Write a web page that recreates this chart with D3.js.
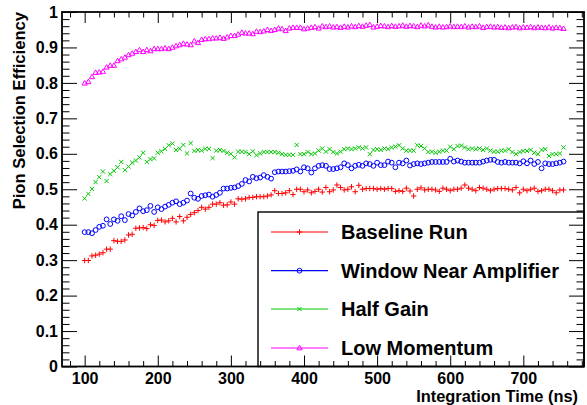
<!DOCTYPE html>
<html>
<head>
<meta charset="utf-8">
<script src="https://cdn.jsdelivr.net/npm/d3@7"></script>
<style>
  html, body { margin: 0; padding: 0; background: #fff; }
  svg { display: block; }
  text { font-family: "Liberation Sans", Arial, Helvetica, sans-serif; font-weight: bold; fill: #000; }
</style>
</head>
<body>
<svg id="chart" width="587" height="405"></svg>
<script>
// Integration-time grid: 100 ns to 755 ns in 5 ns steps
const timeStart = 100;
const timeStep = 5;

const xTicks = [100, 200, 300, 400, 500, 600, 700];
const yTicks = [0, 0.1, 0.2, 0.3, 0.4, 0.5, 0.6, 0.7, 0.8, 0.9, 1];
const yTickLabels = ["0", "0.1", "0.2", "0.3", "0.4", "0.5", "0.6", "0.7", "0.8", "0.9", "1"];

const seriesNames = ["Baseline Run", "Window Near Amplifier", "Half Gain", "Low Momentum"];

const baselineRun = [
  0.299,0.299,0.312,0.314,0.317,0.321,0.331,0.331,0.355,0.353,
  0.353,0.357,0.371,0.373,0.390,0.391,0.392,0.389,0.400,0.398,
  0.412,0.413,0.408,0.411,0.418,0.408,0.423,0.411,0.421,0.429,
  0.434,0.440,0.449,0.444,0.449,0.458,0.458,0.462,0.455,0.456,
  0.464,0.458,0.473,0.472,0.473,0.477,0.477,0.479,
  0.479,0.479,0.481,0.484,0.496,0.488,0.488,0.490,0.496,0.485,
  0.500,0.500,0.493,0.498,0.490,0.494,0.500,0.492,0.505,0.493,
  0.498,0.512,0.505,0.498,0.500,0.507,0.493,0.511,0.500,0.502,
  0.502,0.502,0.500,0.502,0.500,0.502,0.502,0.494,0.496,0.494,
  0.503,0.495,0.481,0.500,0.504,0.498,0.500,0.500,0.498,0.494,
  0.503,0.500,
  0.496,0.500,0.500,0.503,0.512,0.503,0.500,0.496,0.505,0.503,
  0.500,0.496,0.500,0.502,0.502,0.502,0.500,0.498,0.505,0.490,
  0.500,0.496,0.500,0.503,0.494,0.496,0.500,0.500,0.496,0.490,
  0.498,0.498
];

const windowNearAmp = [
  0.379,0.379,0.376,0.385,0.394,0.397,0.415,0.402,0.415,0.411,
  0.424,0.413,0.430,0.426,0.436,0.446,0.438,0.441,0.453,0.436,
  0.449,0.444,0.451,0.456,0.462,0.466,0.458,0.462,0.468,0.488,
  0.476,0.473,0.481,0.483,0.485,0.479,0.484,0.490,0.502,0.502,
  0.504,0.505,0.509,0.515,0.526,0.522,0.535,0.531,
  0.533,0.540,0.535,0.530,0.548,0.550,0.550,0.550,0.551,0.552,
  0.556,0.550,0.562,0.559,0.547,0.559,0.566,0.568,0.566,0.557,
  0.557,0.559,0.562,0.573,0.568,0.559,0.566,0.569,0.566,0.573,
  0.571,0.566,0.575,0.568,0.568,0.578,0.575,0.562,0.575,0.573,
  0.581,0.567,0.571,0.573,0.571,0.573,0.575,0.577,0.577,0.577,
  0.577,0.577,
  0.586,0.578,0.581,0.578,0.575,0.575,0.575,0.575,0.575,0.578,
  0.581,0.583,0.583,0.577,0.575,0.577,0.575,0.575,0.575,0.573,
  0.579,0.573,0.581,0.571,0.577,0.559,0.573,0.571,0.571,0.573,
  0.575,0.578
];

const halfGain = [
  0.474,0.487,0.501,0.520,0.534,0.550,0.523,0.543,0.552,0.562,
  0.577,0.554,0.564,0.575,0.581,0.590,0.603,0.577,0.585,0.587,
  0.603,0.607,0.614,0.624,0.629,0.611,0.614,0.625,0.601,0.630,
  0.608,0.611,0.609,0.614,0.614,0.588,0.609,0.611,0.608,0.603,
  0.600,0.590,0.606,0.606,0.605,0.599,0.607,0.596,
  0.601,0.605,0.605,0.605,0.605,0.603,0.599,0.597,0.597,0.597,
  0.625,0.599,0.599,0.605,0.599,0.601,0.609,0.615,0.606,0.613,
  0.605,0.601,0.606,0.613,0.615,0.613,0.615,0.618,0.615,0.618,
  0.599,0.611,0.613,0.611,0.615,0.613,0.618,0.620,0.624,0.615,
  0.609,0.609,0.609,0.624,0.622,0.615,0.605,0.606,0.603,0.606,
  0.609,0.609,
  0.620,0.613,0.622,0.623,0.618,0.613,0.615,0.613,0.615,0.611,
  0.615,0.609,0.606,0.606,0.609,0.609,0.613,0.605,0.599,0.605,
  0.608,0.608,0.611,0.603,0.599,0.611,0.613,0.594,0.599,0.599,
  0.601,0.618
];

const lowMomentum = [
  0.799,0.803,0.817,0.829,0.830,0.832,0.844,0.849,0.849,0.862,
  0.867,0.872,0.879,0.883,0.888,0.893,0.888,0.893,0.890,0.896,
  0.896,0.896,0.898,0.896,0.900,0.904,0.907,0.911,0.909,0.907,
  0.918,0.913,0.922,0.924,0.924,0.926,0.926,0.928,0.925,0.929,
  0.933,0.933,0.937,0.942,0.940,0.940,0.938,0.945,0.944,0.946,
  0.950,0.947,0.950,0.954,0.952,0.947,0.954,0.956,0.956,0.956,
  0.952,0.954,0.956,0.958,0.954,0.960,
  0.958,0.960,0.957,0.958,0.956,0.959,0.957,0.960,0.958,0.961,
  0.959,0.962,0.964,0.957,0.959,0.961,0.960,0.958,0.961,0.959,
  0.960,0.962,0.959,0.961,0.960,0.958,0.962,0.960,0.963,0.959,
  0.957,0.959,0.957,0.958,0.960,0.958,0.959,0.958,0.960,0.957,
  0.959,0.958,0.960,0.956,0.958,0.959,0.957,0.958,0.956,0.957,
  0.955,0.957,0.958,0.955,0.957,0.956,0.958,0.955,0.957,0.956,
  0.955,0.957,0.954,0.956,0.955,0.953
];

const seriesColors = ["#ff0000", "#0000ff", "#00c800", "#ff00ff"];
const seriesMarkers = ["plus", "circle", "cross", "triangle"];
const seriesValues = [baselineRun, windowNearAmp, halfGain, lowMomentum];

// Marker outlines (ROOT-style: +, open circle, x, open triangle)
const markerPaths = {
  plus: "M-2.7,0H2.7M0,-2.7V2.7",
  circle: "M2.4,0A2.4,2.4 0 1,1 -2.4,0A2.4,2.4 0 1,1 2.4,0Z",
  cross: "M-2.1,-2.1L2.1,2.1M-2.1,2.1L2.1,-2.1",
  triangle: "M0,-2.7L2.6,1.8L-2.6,1.8Z"
};

const svg = d3.select("#chart");
const frame = { left: 62, right: 584, top: 12, bottom: 366.5 };

const x = d3.scaleLinear().domain([69, 783]).range([frame.left, frame.right]);
const y = d3.scaleLinear().domain([0, 1]).range([frame.bottom, frame.top]);

svg.append("rect").attr("width", 587).attr("height", 405).attr("fill", "#fff");

// Legend box (sits on the lower-right corner of the frame)
const legend = { left: 258, top: 212, right: frame.right, bottom: frame.bottom };
svg.append("rect")
  .attr("x", legend.left).attr("y", legend.top)
  .attr("width", legend.right - legend.left).attr("height", legend.bottom - legend.top)
  .attr("fill", "#fff").attr("stroke", "#000").attr("stroke-width", 1.4);

// Data markers
seriesValues.forEach((vals, s) => {
  const g = svg.append("g")
    .attr("fill", "none")
    .attr("stroke", seriesColors[s])
    .attr("stroke-width", 1);
  g.selectAll("path")
    .data(vals)
    .join("path")
    .attr("transform", (v, i) => `translate(${x(timeStart + i * timeStep)},${y(v)})`)
    .attr("d", markerPaths[seriesMarkers[s]]);
});

// Legend entries
const legendRowY = [232, 270.7, 309, 348];
seriesNames.forEach((name, s) => {
  const row = svg.append("g").attr("transform", `translate(0,${legendRowY[s]})`);
  row.append("line")
    .attr("x1", 271).attr("x2", 328).attr("y1", 0).attr("y2", 0)
    .attr("stroke", seriesColors[s]).attr("stroke-width", 1.2);
  row.append("path")
    .attr("transform", "translate(299.5,0)")
    .attr("d", markerPaths[seriesMarkers[s]])
    .attr("fill", "none").attr("stroke", seriesColors[s]).attr("stroke-width", 1);
  row.append("text")
    .attr("x", 341).attr("dy", "0.35em")
    .style("font-size", "20px")
    .text(name);
});

// Axes: ticks point inward on all four sides
const xMinor = d3.range(80, 784, 20).filter(v => v % 100 !== 0);
const yMinor = d3.range(1, 50).map(k => k * 0.02).filter((v, k) => (k + 1) % 5 !== 0);

function styleAxis(g) {
  g.select(".domain").remove();
  g.selectAll(".tick line").attr("stroke", "#000").attr("stroke-width", 1);
  g.selectAll("text").style("font-size", "16px").attr("fill", "#000");
}

svg.append("g").attr("transform", `translate(0,${frame.bottom})`)
  .call(d3.axisBottom(x).tickValues(xTicks).tickSize(-11).tickPadding(6).tickFormat(d3.format("d")))
  .call(styleAxis);
svg.append("g").attr("transform", `translate(0,${frame.bottom})`)
  .call(d3.axisBottom(x).tickValues(xMinor).tickSize(-5.5).tickFormat(""))
  .call(styleAxis);
svg.append("g").attr("transform", `translate(0,${frame.top})`)
  .call(d3.axisTop(x).tickValues(xTicks).tickSize(-11).tickFormat(""))
  .call(styleAxis);
svg.append("g").attr("transform", `translate(0,${frame.top})`)
  .call(d3.axisTop(x).tickValues(xMinor).tickSize(-5.5).tickFormat(""))
  .call(styleAxis);

svg.append("g").attr("transform", `translate(${frame.left},0)`)
  .call(d3.axisLeft(y).tickValues(yTicks).tickSize(-15).tickPadding(4)
    .tickFormat((d, i) => yTickLabels[i]))
  .call(styleAxis);
svg.append("g").attr("transform", `translate(${frame.left},0)`)
  .call(d3.axisLeft(y).tickValues(yMinor).tickSize(-7.5).tickFormat(""))
  .call(styleAxis);
svg.append("g").attr("transform", `translate(${frame.right},0)`)
  .call(d3.axisRight(y).tickValues(yTicks).tickSize(-15).tickFormat(""))
  .call(styleAxis);
svg.append("g").attr("transform", `translate(${frame.right},0)`)
  .call(d3.axisRight(y).tickValues(yMinor).tickSize(-7.5).tickFormat(""))
  .call(styleAxis);

// Frame
svg.append("rect")
  .attr("x", frame.left).attr("y", frame.top)
  .attr("width", frame.right - frame.left).attr("height", frame.bottom - frame.top)
  .attr("fill", "none").attr("stroke", "#000").attr("stroke-width", 1.8);

// Axis titles
svg.append("text")
  .attr("x", 578).attr("y", 401.5)
  .attr("text-anchor", "end")
  .style("font-size", "16.4px")
  .text("Integration Time (ns)");

svg.append("text")
  .attr("transform", "translate(25,12) rotate(-90)")
  .attr("text-anchor", "end")
  .style("font-size", "16.6px")
  .text("Pion Selection Efficiency");
</script>
</body>
</html>
